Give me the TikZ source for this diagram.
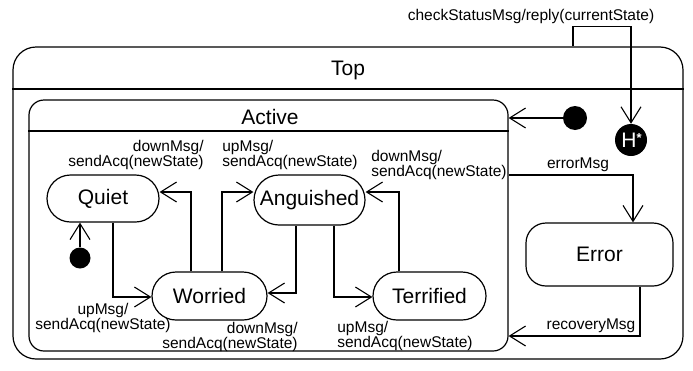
\documentclass[tikz,border=0pt]{standalone}
\usepackage{fontspec}
\setmainfont{Liberation Sans}
\usetikzlibrary{arrows.meta}
\begin{document}
\begin{tikzpicture}[x=1pt,y=-1pt,
  box/.style={draw, line width=1.2pt, inner sep=0pt, rounded corners=#1},
  big/.style={font=\fontsize{21}{21}\selectfont, inner sep=0pt},
  lbl/.style={font=\fontsize{15.5}{15}\selectfont, inner sep=0pt},
  dot/.style={circle, fill=black, inner sep=0pt},
  line/.style={line width=1.2pt},
  tr/.style={line width=1.2pt, -{Straight Barb[length=16pt,width=20pt,line width=1.1pt]}}]
\useasboundingbox (0,0) rectangle (693,370);
% containers
\node[box=23pt, minimum width=670pt, minimum height=312pt] (Top) at (348,203) {};
\draw[line] (Top.west |- 0,89) -- (Top.east |- 0,89);
\node[big] (toplbl) at (348,70) {Top};
\node[box=15pt, minimum width=479pt, minimum height=251pt] (Active) at (268.5,225.5) {};
\draw[line] (Active.west |- 0,131) -- (Active.east |- 0,131);
\node[big] (actlbl) at (270,117) {Active};
% states
\node[box=23.5pt, big, minimum width=112pt, minimum height=47pt] (Quiet) at (103,198.5) {Quiet};
\node[box=25pt, big, minimum width=111pt, minimum height=50pt] (Anguished) at (309.5,200) {Anguished};
\node[box=24pt, big, minimum width=115pt, minimum height=48pt] (Worried) at (209.5,296) {Worried};
\node[box=24pt, big, minimum width=113pt, minimum height=48pt] (Terrified) at (429.5,296) {Terrified};
\node[box=20pt, big, minimum width=147pt, minimum height=63pt] (Error) at (599.5,254.5) {Error};
% pseudo states
\node[dot, minimum size=21pt] (qinit) at (80,258) {};
\node[dot, minimum size=24pt] (tinit) at (575,118) {};
\node[dot, minimum size=32pt, text=white, font=\fontsize{21}{21}\selectfont] (H) at (631,140) {\hspace{1pt}H\raisebox{5pt}{\fontsize{13}{13}\selectfont\bfseries *}};
% transitions
\draw[tr] ([xshift=-18.5pt]Worried.north) |- ([yshift=6.5pt]Quiet.east);
\draw[tr] ([xshift=12.5pt]Worried.north) |- ([yshift=8pt]Anguished.west);
\draw[tr] ([xshift=10pt]Quiet.south) |- ([yshift=-1pt]Worried.west);
\draw[tr] ([xshift=-13.5pt]Anguished.south) |- ([yshift=3pt]Worried.east);
\draw[tr] ([xshift=24.5pt]Anguished.south) |- ([yshift=-1pt]Terrified.west);
\draw[tr] ([xshift=-30.5pt]Terrified.north) |- ([yshift=8pt]Anguished.east);
\draw[tr] (qinit) -- (qinit |- Quiet.south);
\draw[tr] (tinit) -- (tinit -| Active.east);
\draw[tr] ([yshift=50.5pt]Active.east) -| ([xshift=33.5pt]Error.north);
\draw[tr] ([xshift=40.5pt]Error.south) |- ([yshift=-110.5pt]Active.east);
\draw[tr] ([xshift=225pt]Top.north) -- ++(0,-20) -| (H.north);
% labels
\node[lbl, align=right] (l1) at (136,155) {downMsg/\\sendAcq(newState)};
\node[lbl, align=left] (l2) at (290,155) {upMsg/\\sendAcq(newState)};
\node[lbl, align=left] (l3) at (439,164.5) {downMsg/\\sendAcq(newState)};
\node[lbl, align=center] (l4) at (103,318) {upMsg/\\sendAcq(newState)};
\node[lbl, align=right] (l5) at (230,337) {downMsg/\\sendAcq(newState)};
\node[lbl, align=left] (l6) at (405,335.5) {upMsg/\\sendAcq(newState)};
\node[lbl] (lerr) at (578,165) {errorMsg};
\node[lbl] (lrec) at (591,326) {recoveryMsg};
\node[lbl] (lchk) at (531,16) {checkStatusMsg/reply(currentState)};
\end{tikzpicture}
\end{document}
